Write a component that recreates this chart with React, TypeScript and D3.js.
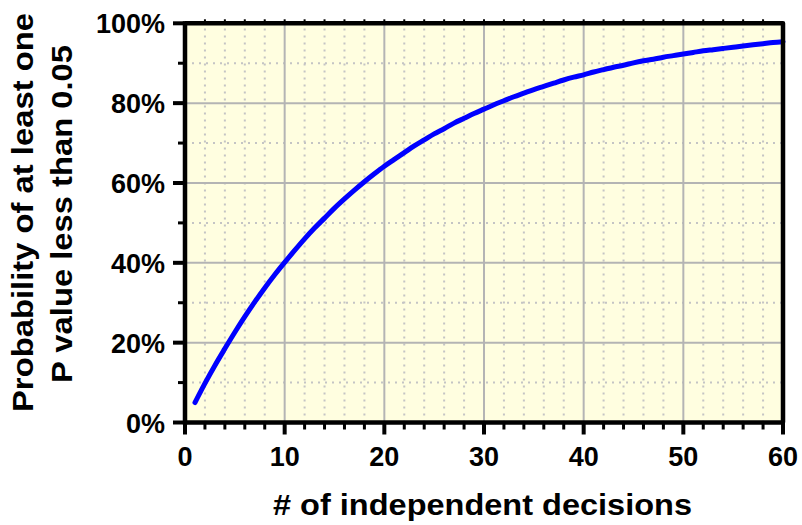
import * as d3 from "d3";

// values, one per number of decisions (1..60), in %
const decisions = d3.range(1, 61);
const probability = [
  5.0, 9.8, 14.3, 18.5, 22.6, 26.5, 30.2, 33.7, 37.0, 40.1,
  43.1, 46.0, 48.7, 51.2, 53.7, 56.0, 58.2, 60.3, 62.3, 64.2,
  65.9, 67.6, 69.3, 70.8, 72.3, 73.6, 75.0, 76.2, 77.4, 78.5,
  79.6, 80.6, 81.6, 82.5, 83.4, 84.2, 85.0, 85.8, 86.5, 87.1,
  87.8, 88.4, 89.0, 89.5, 90.1, 90.6, 91.0, 91.5, 91.9, 92.3,
  92.7, 93.1, 93.4, 93.7, 94.0, 94.3, 94.6, 94.9, 95.2, 95.4,
];

const xMajor = [0, 10, 20, 30, 40, 50, 60];
const xMinor = d3.range(0, 61, 2);
const yMajor = [0, 20, 40, 60, 80, 100];
const yMinor = d3.range(0, 101, 10);

const xTitle = "# of independent decisions";
const yTitle = ["Probability of at least one", "P value less than 0.05"];

const W = 802;
const H = 525;
const FONT = "'Liberation Sans', Arial, sans-serif";

export default function App() {
  const x = d3.scaleLinear().domain([0, 60]).range([185, 783]);
  const y = d3.scaleLinear().domain([0, 100]).range([422.5, 23.3]);
  const [x0, x1] = x.range();
  const [y0, y1] = y.range();

  const line = d3
    .line<number>()
    .x((_, i) => x(decisions[i]))
    .y((d) => y(d))
    .curve(d3.curveMonotoneX);

  return (
    <svg
      width={W}
      height={H}
      style={{ position: "absolute", left: 0, top: 0, background: "#fff" }}
      fontFamily={FONT}
    >
      {/* plot background */}
      <rect x={x0} y={y1} width={x1 - x0} height={y0 - y1} fill="#FFFEE0" />

      {/* minor grid, dotted */}
      <g stroke="#c4c4c4" strokeWidth={2} strokeDasharray="2 5">
        {xMinor.filter((v) => v % 10 !== 0).map((v) => (
          <line key={"xm" + v} x1={x(v)} x2={x(v)} y1={y0} y2={y1} />
        ))}
        {yMinor.filter((v) => v % 20 !== 0).map((v) => (
          <line key={"ym" + v} x1={x0} x2={x1} y1={y(v)} y2={y(v)} />
        ))}
      </g>

      {/* major grid */}
      <g stroke="#b4b4b4" strokeWidth={2}>
        {xMajor.slice(1, -1).map((v) => (
          <line key={"xg" + v} x1={x(v)} x2={x(v)} y1={y0} y2={y1} />
        ))}
        {yMajor.slice(1, -1).map((v) => (
          <line key={"yg" + v} x1={x0} x2={x1} y1={y(v)} y2={y(v)} />
        ))}
      </g>

      {/* curve */}
      <path
        d={line(probability) ?? ""}
        fill="none"
        stroke="#0000ff"
        strokeWidth={5}
        strokeLinecap="round"
        strokeLinejoin="round"
      />

      {/* top + right frame */}
      <path
        d={`M${x0},${y1}H${x1}V${y0}`}
        fill="none"
        stroke="#000"
        strokeWidth={4.5}
        strokeLinejoin="round"
      />
      {/* small marks on top frame */}
      <g stroke="#000" strokeWidth={2}>
        {xMinor.slice(1, -1).map((v) => (
          <line key={"tt" + v} x1={x(v)} x2={x(v)} y1={y1} y2={y1 - 4} />
        ))}
      </g>

      {/* axes */}
      <g stroke="#000">
        <line x1={x0} x2={x0} y1={y1 - 2} y2={y0 + 2} strokeWidth={4.5} />
        <line x1={x0 - 2} x2={x1 + 2} y1={y0} y2={y0} strokeWidth={4.5} />
        {yMinor.map((v) => (
          <line
            key={"yt" + v}
            x1={v % 20 === 0 ? x0 - 12 : x0 - 7}
            x2={x0}
            y1={y(v)}
            y2={y(v)}
            strokeWidth={v % 20 === 0 ? 4 : 3}
          />
        ))}
        {xMinor.map((v) => (
          <line
            key={"xt" + v}
            x1={x(v)}
            x2={x(v)}
            y1={y0}
            y2={v % 10 === 0 ? y0 + 12 : y0 + 7}
            strokeWidth={v % 10 === 0 ? 4 : 3}
          />
        ))}
      </g>

      {/* tick labels */}
      <g fontSize={27} fontWeight="bold" fill="#000">
        {yMajor.map((v) => (
          <text key={"yl" + v} x={165} y={y(v) + 10} textAnchor="end">
            {v + "%"}
          </text>
        ))}
        {xMajor.map((v) => (
          <text key={"xl" + v} x={x(v)} y={466} textAnchor="middle">
            {v}
          </text>
        ))}
      </g>

      {/* titles */}
      <g fontSize={30} fontWeight="bold" fill="#000" textAnchor="middle">
        <text x={482.5} y={515} textLength={419} lengthAdjust="spacingAndGlyphs">
          {xTitle}
        </text>
        <text
          transform="translate(33,212.5) rotate(-90)"
          textLength={399}
          lengthAdjust="spacingAndGlyphs"
        >
          {yTitle[0]}
        </text>
        <text
          transform="translate(72,214) rotate(-90)"
          textLength={338}
          lengthAdjust="spacingAndGlyphs"
        >
          {yTitle[1]}
        </text>
      </g>
    </svg>
  );
}
